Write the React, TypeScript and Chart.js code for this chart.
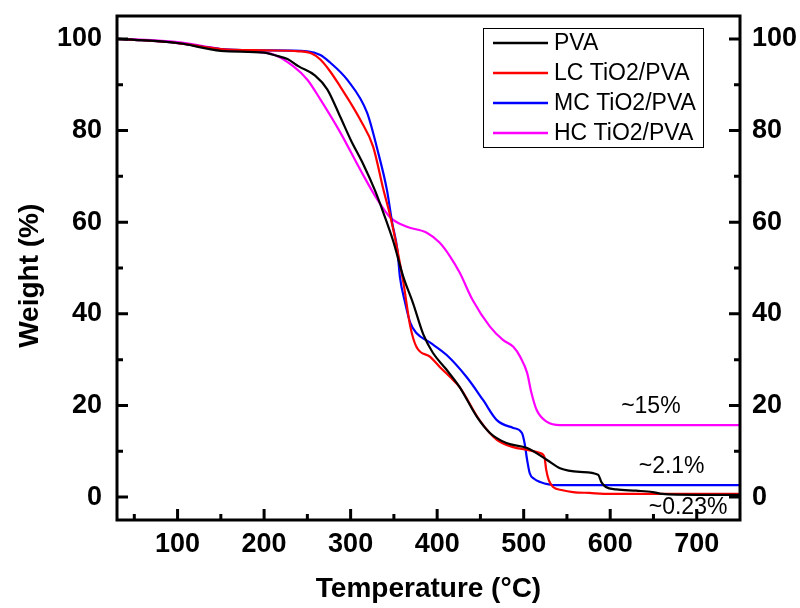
import React, { useEffect, useRef } from "react";
import { Chart, registerables } from "chart.js";

Chart.register(...registerables);

// ---- data ----
const pvaT = [30, 50, 100, 150, 200, 215, 227, 240, 259, 273, 288, 300, 315, 328, 338, 349, 361, 372, 384, 395, 410, 426, 446, 461, 480, 504, 527, 542, 565, 586, 590, 595, 607, 630, 649, 660, 700, 750];
const pvaW = [100, 99.8, 99.1, 97.4, 97.0, 96.3, 95.6, 94.0, 92.0, 89.0, 83.0, 78.0, 72.5, 67.0, 62.0, 56.0, 48.0, 42.4, 35.5, 31.5, 28.0, 24.0, 17.5, 14.0, 11.8, 10.7, 8.1, 6.3, 5.5, 4.9, 3.2, 2.2, 1.7, 1.4, 1.1, 0.7, 0.5, 0.5];

const lcT = [30, 50, 100, 150, 200, 240, 255, 265, 276, 288, 300, 311, 326, 338, 346, 354, 361, 369, 376, 392, 403, 415, 426, 449, 469, 488, 504, 519, 524, 526, 529, 534, 545, 557, 576, 600, 750];
const lcW = [100, 99.8, 99.1, 97.8, 97.5, 97.3, 96.8, 95.5, 93.0, 89.6, 86.0, 82.4, 76.5, 67.0, 61.2, 54.0, 46.8, 37.2, 32.8, 30.6, 28.4, 26.2, 24.0, 16.8, 12.5, 10.9, 10.3, 9.6, 8.7, 6.0, 3.7, 2.2, 1.5, 1.1, 0.9, 0.7, 0.7];

const mcT = [30, 50, 100, 150, 200, 250, 265, 276, 296, 319, 331, 342, 348, 354, 357, 363, 369, 376, 392, 411, 434, 453, 469, 488, 498, 501, 504, 507, 512, 519, 538, 560, 750];
const mcW = [100, 99.8, 99.1, 97.8, 97.5, 97.3, 96.5, 94.9, 91.1, 83.9, 75.8, 67.0, 59.9, 54.0, 48.0, 42.4, 38.0, 35.8, 33.7, 31.0, 26.2, 21.2, 16.8, 15.1, 14.0, 11.8, 8.1, 5.2, 4.0, 3.3, 2.6, 2.6, 2.6];

const hcT = [30, 50, 100, 150, 200, 211, 234, 250, 265, 288, 311, 331, 346, 365, 388, 403, 415, 426, 441, 461, 476, 488, 496, 504, 509, 515, 527, 542, 750];
const hcW = [100, 99.9, 99.3, 97.8, 97.0, 96.6, 94.0, 91.1, 86.8, 79.6, 71.5, 64.9, 61.0, 59.0, 57.7, 55.5, 52.5, 49.0, 43.0, 37.2, 34.3, 32.8, 30.6, 27.1, 22.7, 19.0, 16.4, 15.7, 15.7];

const seriesLabels = ["PVA", "LC TiO2/PVA", "MC TiO2/PVA", "HC TiO2/PVA"];
const seriesColors = ["#000000", "#ff0000", "#0000ff", "#ff00ff"];

const xTickValues = [100, 200, 300, 400, 500, 600, 700];
const yTickValues = [0, 20, 40, 60, 80, 100];

const annotationTexts = ["~15%", "~2.1%", "~0.23%"];
const annotationT = [647, 671, 690];
const annotationW = [19.7, 6.6, -2.4];

const FONT = "'Liberation Sans', Arial, sans-serif";

function toPoints(t: number[], w: number[]) {
  return t.map((x, i) => ({ x, y: w[i] }));
}

const framePlugin = {
  id: "framePlugin",
  afterDraw(chart: any) {
    const { ctx, chartArea } = chart;
    const { left, right, top, bottom } = chartArea;
    const xs = chart.scales.x;
    const ys = chart.scales.y;
    ctx.save();
    ctx.strokeStyle = "#000";
    ctx.lineWidth = 3;
    ctx.lineCap = "butt";
    // ticks
    ctx.beginPath();
    for (let v = 0; v <= 100; v += 10) {
      const py = ys.getPixelForValue(v);
      const len = v % 20 === 0 ? 11 : 6;
      ctx.moveTo(left, py);
      ctx.lineTo(left + len, py);
      ctx.moveTo(right, py);
      ctx.lineTo(right - len, py);
    }
    for (let v = 50; v < 750; v += 50) {
      const px = xs.getPixelForValue(v);
      const len = v % 100 === 0 ? 11 : 6;
      ctx.moveTo(px, bottom);
      ctx.lineTo(px, bottom - len);
    }
    ctx.stroke();
    // frame
    ctx.strokeRect(left, top, right - left, bottom - top);

    // annotations
    ctx.fillStyle = "#000";
    ctx.font = `23px ${FONT}`;
    ctx.textAlign = "center";
    ctx.textBaseline = "middle";
    annotationTexts.forEach((txt, i) => {
      ctx.fillText(txt, xs.getPixelForValue(annotationT[i]), ys.getPixelForValue(annotationW[i]));
    });

    // legend
    const bx = 483, by = 28, bw = 220, bh = 119;
    ctx.fillStyle = "#fff";
    ctx.fillRect(bx, by, bw, bh);
    ctx.lineWidth = 1;
    ctx.strokeStyle = "#000";
    ctx.strokeRect(bx + 0.5, by + 0.5, bw, bh);
    ctx.textAlign = "left";
    chart.data.datasets.forEach((ds: any, i: number) => {
      const cy = 43 + i * 30;
      ctx.strokeStyle = ds.borderColor;
      ctx.lineWidth = 2.5;
      ctx.beginPath();
      ctx.moveTo(493, cy);
      ctx.lineTo(548, cy);
      ctx.stroke();
      ctx.fillStyle = "#000";
      ctx.fillText(ds.label, 554, cy + 1);
    });
    ctx.restore();
  },
};

export default function App() {
  const ref = useRef<HTMLCanvasElement | null>(null);
  useEffect(() => {
    if (!ref.current) return;
    const tickFont = { family: FONT, size: 27, weight: "bold" as const };
    const titleFont = { family: FONT, size: 28, weight: "bold" as const };
    const series = [
      toPoints(pvaT, pvaW),
      toPoints(lcT, lcW),
      toPoints(mcT, mcW),
      toPoints(hcT, hcW),
    ];
    const fitV = (w: number) => (s: any) => {
      s.width = w;
      s.paddingTop = 0;
      s.paddingBottom = 0;
    };
    const chart = new Chart(ref.current, {
      type: "line",
      data: {
        datasets: series.map((pts, i) => ({
          label: seriesLabels[i],
          data: pts,
          borderColor: seriesColors[i],
          backgroundColor: seriesColors[i],
          borderWidth: 2.2,
          pointRadius: 0,
          cubicInterpolationMode: "monotone" as const,
          fill: false,
        })),
      },
      options: {
        responsive: false,
        animation: false,
        devicePixelRatio: 1,
        layout: { padding: { top: 16, left: 0, right: 0, bottom: 0 } },
        plugins: { legend: { display: false }, tooltip: { enabled: false } },
        scales: {
          x: {
            type: "linear",
            position: "bottom",
            min: 30,
            max: 750,
            afterBuildTicks: (s: any) => {
              s.ticks = xTickValues.map((v) => ({ value: v }));
            },
            afterFit: (s: any) => {
              s.height = 88;
              s.paddingLeft = 0;
              s.paddingRight = 0;
            },
            grid: { display: false },
            border: { display: false },
            ticks: { font: tickFont, color: "#000", padding: 0, maxRotation: 0, autoSkip: false },
            title: {
              display: true,
              text: "Temperature (°C)",
              font: titleFont,
              color: "#000",
              padding: { top: 0, bottom: 2 },
            },
          },
          y: {
            type: "linear",
            position: "left",
            min: -5,
            max: 105,
            afterBuildTicks: (s: any) => {
              s.ticks = yTickValues.map((v) => ({ value: v }));
            },
            afterFit: fitV(117),
            grid: { display: false },
            border: { display: false },
            ticks: { font: tickFont, color: "#000", padding: 7, autoSkip: false },
            title: {
              display: true,
              text: "Weight (%)  ",
              font: titleFont,
              color: "#000",
              padding: { top: 13, bottom: 0 },
            },
          },
          y2: {
            type: "linear",
            position: "right",
            min: -5,
            max: 105,
            afterBuildTicks: (s: any) => {
              s.ticks = yTickValues.map((v) => ({ value: v }));
            },
            afterFit: fitV(60),
            grid: { display: false },
            border: { display: false },
            ticks: { font: tickFont, color: "#000", padding: 4, autoSkip: false },
          },
        },
      },
      plugins: [framePlugin],
    });
    return () => chart.destroy();
  }, []);

  return (
    <div style={{ position: "absolute", left: 0, top: 0, width: 800, height: 608, background: "#fff" }}>
      <canvas ref={ref} width={800} height={608} style={{ display: "block" }} />
    </div>
  );
}
